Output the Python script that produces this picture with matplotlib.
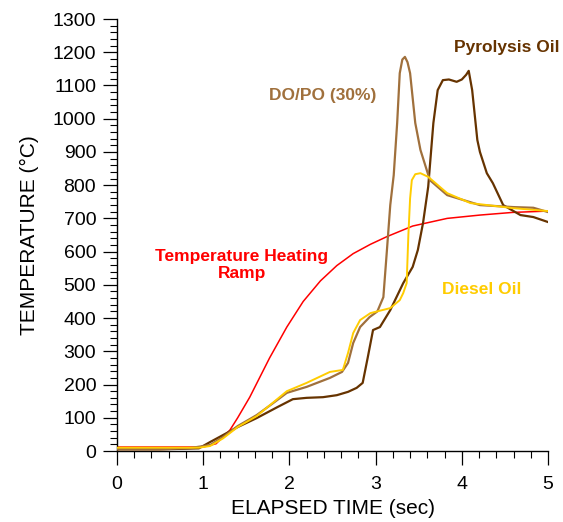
import matplotlib
matplotlib.use("Agg")
import matplotlib.pyplot as plt
from matplotlib.ticker import MultipleLocator

plt.rcParams['font.family'] = ['Liberation Sans', 'DejaVu Sans']

# ---- data ----
ramp_t = [0, 1.0, 1.15, 1.22, 1.31, 1.4, 1.54, 1.77, 1.97, 2.16, 2.36, 2.55, 2.74, 2.94, 3.13, 3.43,
          3.83, 4.21, 4.59, 5.0]
ramp_T = [12, 12, 22, 40, 63, 100, 162, 280, 373, 450, 512, 558, 594, 622, 645, 677,
          700, 710, 718, 722]

pyro_t = [0, 0.5, 0.95, 1.08, 1.23, 1.4, 1.62, 1.86, 2.04, 2.2, 2.39, 2.55, 2.68, 2.78, 2.85,
          2.91, 2.97, 3.05, 3.17, 3.32, 3.43, 3.49, 3.55, 3.61, 3.67, 3.72, 3.78, 3.85,
          3.94, 4.0, 4.05, 4.08, 4.12, 4.18, 4.21, 4.29, 4.36, 4.48, 4.68, 4.83, 5.0]
pyro_T = [5, 5, 8, 27, 48, 72, 99, 132, 156, 160, 162, 168, 178, 190, 205,
          283, 364, 373, 424, 505, 554, 605, 686, 795, 987, 1086, 1116, 1118,
          1111, 1118, 1132, 1144, 1086, 936, 900, 836, 806, 740, 710, 704, 689]

dopo_t = [0, 0.5, 0.85, 1.08, 1.23, 1.4, 1.62, 1.8, 1.97, 2.2, 2.47, 2.61, 2.68, 2.74, 2.82,
          2.93, 3.02, 3.09, 3.13, 3.17, 3.21, 3.25, 3.28, 3.31, 3.34, 3.37, 3.40, 3.46, 3.52,
          3.63, 3.83, 4.21, 4.6, 4.83, 5.0]
dopo_T = [5, 5, 9, 18, 42, 75, 108, 142, 175, 193, 220, 238, 265, 325, 373,
          403, 420, 463, 600, 740, 830, 987, 1137, 1178, 1186, 1170, 1137, 987, 906,
          815, 770, 740, 734, 732, 719]

diesel_t = [0, 0.5, 0.95, 1.08, 1.23, 1.4, 1.62, 1.97, 2.2, 2.47, 2.62, 2.68, 2.74, 2.82, 2.94,
            3.17, 3.28, 3.32, 3.36, 3.38, 3.40, 3.42, 3.46, 3.52, 3.61, 3.83, 4.10, 4.59, 5.0]
diesel_T = [10, 10, 10, 15, 38, 72, 105, 180, 205, 238, 244, 295, 355, 394, 415,
            430, 454, 475, 505, 650, 760, 815, 833, 836, 825, 776, 746, 731, 722]

c_red = '#FF0000'
c_dark = '#663300'
c_med = '#A0703C'
c_yel = '#FFCC00'

fig = plt.figure(figsize=(5.63, 5.22), dpi=100)
ax = fig.add_axes([0.2078, 0.136, 0.9734 - 0.2078, 0.9636 - 0.136])

ax.plot(ramp_t, ramp_T, color=c_red, lw=1.1, zorder=2)
ax.plot(pyro_t, pyro_T, color=c_dark, lw=1.6, zorder=3)
ax.plot(dopo_t, dopo_T, color=c_med, lw=1.6, zorder=4)
ax.plot(diesel_t, diesel_T, color=c_yel, lw=1.4, zorder=5)

ax.set_xlim(0, 5)
ax.set_ylim(0, 1300)
ax.xaxis.set_major_locator(MultipleLocator(1))
ax.xaxis.set_minor_locator(MultipleLocator(0.2))
ax.yaxis.set_major_locator(MultipleLocator(100))
ax.yaxis.set_minor_locator(MultipleLocator(20))

for s in ['top', 'right']:
    ax.spines[s].set_visible(False)
for s in ['left', 'bottom']:
    ax.spines[s].set_linewidth(1.0)

ax.tick_params(axis='both', which='major', direction='out', length=10, width=0.9,
               labelsize=14, pad=5)
ax.tick_params(axis='both', which='minor', direction='out', length=5, width=0.8)
ax.tick_params(axis='x', which='major', pad=8)

ax.set_xlabel('ELAPSED TIME (sec)', fontsize=15, labelpad=4)
ax.set_ylabel('TEMPERATURE (\u00b0C)', fontsize=15, labelpad=10)

ax.text(1.45, 560, 'Temperature Heating\nRamp', color=c_red, fontsize=12.5, fontweight='bold',
        ha='center', va='center', linespacing=1.15)
ax.text(2.39, 1071, 'DO/PO (30%)', color=c_med, fontsize=12.5, fontweight='bold',
        ha='center', va='center')
ax.text(4.52, 1213, 'Pyrolysis Oil', color=c_dark, fontsize=12.5, fontweight='bold',
        ha='center', va='center')
ax.text(4.23, 485, 'Diesel Oil', color=c_yel, fontsize=12.5, fontweight='bold',
        ha='center', va='center')

fig.savefig('out.png', dpi=100)
